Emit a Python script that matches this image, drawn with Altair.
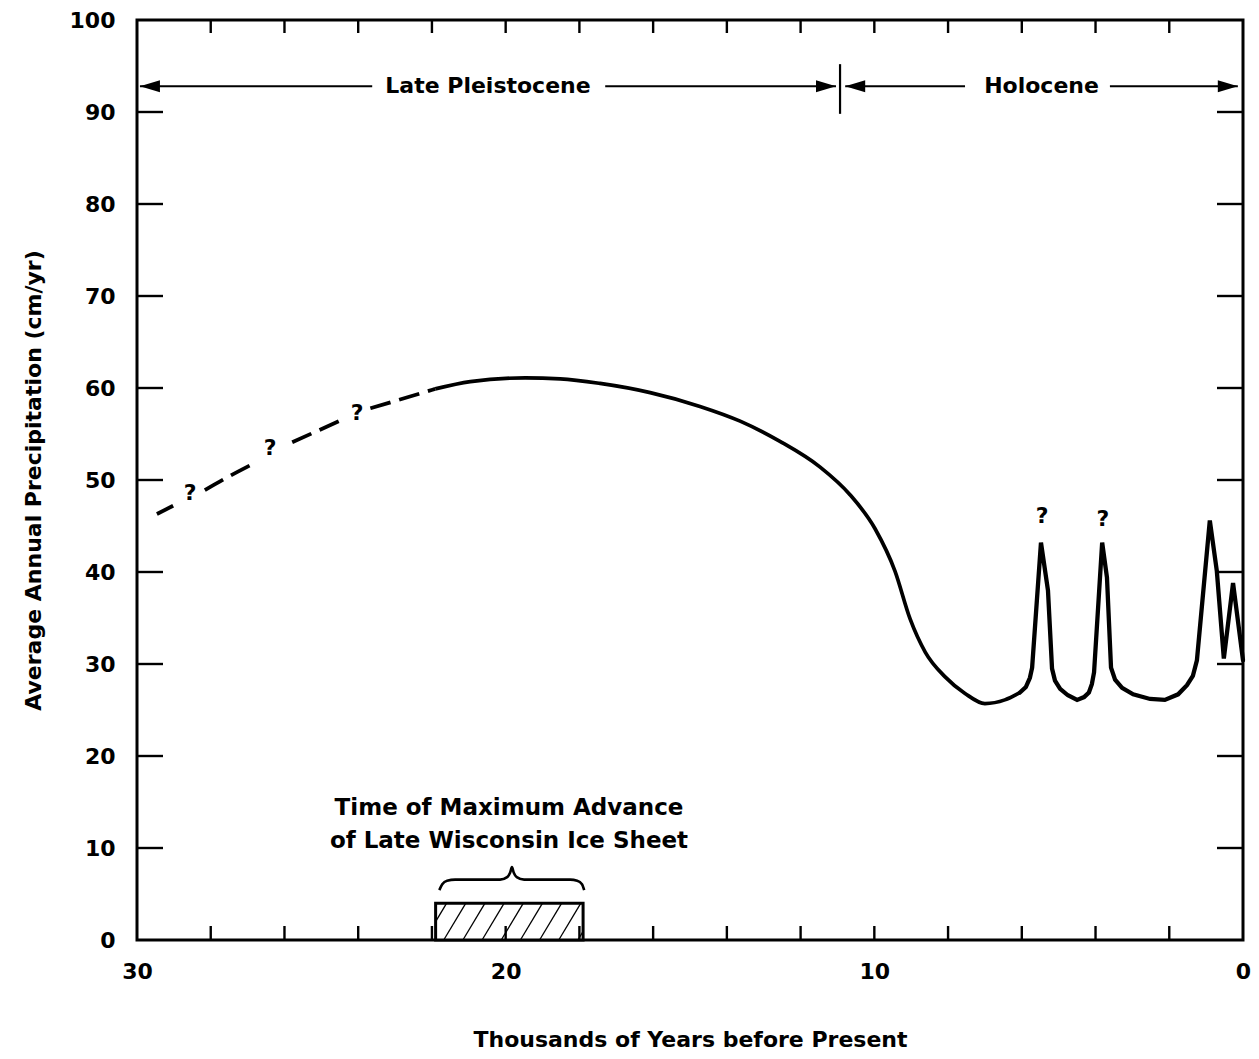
import altair as alt
import pandas as pd
import numpy as np

# ---------------- data ----------------
# smooth part of the precipitation curve (thousands of years BP, cm/yr)
smooth_years = [21.91, 20.96, 19.47, 18.52, 17.44, 16.08, 14.73, 13.64, 12.56, 11.47,
                10.66, 9.98, 9.44, 9.03, 8.62, 8.08, 7.54, 7.00, 6.46, 6.05]
smooth_values = [59.9, 60.7, 61.1, 61.0, 60.5, 59.5, 58.0, 56.4, 54.2, 51.4,
                 48.4, 44.7, 40.1, 34.9, 31.3, 28.6, 26.8, 25.7, 26.1, 26.9]
# Holocene spikes
spike_years = [6.05, 5.89, 5.78, 5.72, 5.48, 5.29, 5.18, 5.10, 4.96, 4.75,
               4.50, 4.31, 4.18, 4.10, 4.04, 3.82, 3.69, 3.58, 3.47, 3.28,
               2.98, 2.52, 2.12, 1.76, 1.52, 1.36, 1.25, 0.90, 0.71, 0.52,
               0.27, 0.0]
spike_values = [26.9, 27.5, 28.5, 29.6, 43.2, 38.0, 29.5, 28.2, 27.3, 26.6,
                26.1, 26.4, 26.9, 27.8, 29.1, 43.2, 39.4, 29.6, 28.3, 27.4,
                26.7, 26.2, 26.1, 26.7, 27.7, 28.7, 30.4, 45.6, 40.1, 30.6,
                38.8, 30.4]

# dashed (uncertain) part, in pieces separated by question marks
dashed_years = [29.46, 29.02, 28.16, 27.50, 26.93, 25.79, 24.41, 23.67, 22.32, 21.91]
dashed_values = [46.3, 47.2, 48.9, 50.4, 51.6, 54.1, 56.6, 57.8, 59.4, 59.9]
dashed_piece = [1, 1, 2, 2, 2, 3, 3, 4, 4, 4]

# question marks
q_years = [28.56, 26.39, 24.03, 5.45, 3.80]
q_values = [48.6, 53.5, 57.3, 46.1, 45.8]

# period annotations
period_names = ["Late Pleistocene", "Holocene"]
period_label_year = [20.48, 5.465]
period_level = 92.8
period_line_from = [29.92, 17.30, 10.79, 3.61]
period_line_to = [23.62, 11.04, 7.54, 0.14]
arrow_tip_year = [29.92, 11.04, 10.79, 0.14]
arrow_dir = ["left", "right", "left", "right"]
divider_year = 10.93
divider_low, divider_high = 89.8, 95.2

# ice-sheet maximum advance box
ice_from, ice_to = 21.9, 17.9
ice_height = 4.0
ice_text = ["Time of Maximum Advance", "of Late Wisconsin Ice Sheet"]
ice_text_year = [19.91, 19.91]
ice_text_value = [14.4, 10.8]
brace_years = [21.80, 21.72, 21.59, 21.37, 20.15, 19.96, 19.88, 19.83,
               19.78, 19.70, 19.50, 18.25, 18.06, 17.93, 17.87]
brace_values = [5.42, 6.07, 6.45, 6.56, 6.56, 6.83, 7.30, 7.92,
                7.30, 6.83, 6.56, 6.56, 6.45, 6.07, 5.42]

# axis ticks / labels
x_labels = [30, 20, 10, 0]
x_minor = list(range(2, 30, 2))
y_labels = list(range(0, 101, 10))
y_minor = list(range(10, 100, 10))

# ---------------- chart ----------------
W, H = 1106, 920
FONT = "DejaVu Sans"

xs = alt.Scale(domain=[0, 30], reverse=True, nice=False, zero=False)
ys = alt.Scale(domain=[0, 100], nice=False)

X = alt.X("year:Q", scale=xs,
          axis=alt.Axis(values=x_labels, format="d", labelPadding=21,
                        titlePadding=47, labelFlush=False),
          title="Thousands of Years before Present")
Y = alt.Y("value:Q", scale=ys,
          axis=alt.Axis(values=y_labels, format="d", labelPadding=22,
                        titlePadding=24, labelFlush=False),
          title="Average Annual Precipitation (cm/yr)")

smooth_df = pd.DataFrame({"year": smooth_years, "value": smooth_values,
                          "o": range(len(smooth_years))})
spike_df = pd.DataFrame({"year": spike_years, "value": spike_values,
                         "o": range(len(spike_years))})
dashed_df = pd.DataFrame({"year": dashed_years, "value": dashed_values,
                          "piece": dashed_piece, "o": range(len(dashed_years))})
q_df = pd.DataFrame({"year": q_years, "value": q_values, "t": ["?"] * len(q_years)})

smooth = alt.Chart(smooth_df).mark_line(
    color="black", strokeWidth=3.7, strokeJoin="round", interpolate="monotone").encode(
    x=X, y=Y, order="o:Q")
spikes = alt.Chart(spike_df).mark_line(
    color="black", strokeWidth=4.3, strokeJoin="miter", strokeCap="round").encode(
    x=X, y=Y, order="o:Q")

dashed = alt.Chart(dashed_df).mark_line(
    color="black", strokeWidth=3.8, strokeDash=[21, 9], interpolate="monotone").encode(
    x=X, y=Y, detail="piece:N", order="o:Q")

qmarks = alt.Chart(q_df).mark_text(font=FONT, fontWeight="bold", fontSize=22,
                                   color="black", baseline="middle").encode(
    x=X, y=Y, text="t:N")

# period lines
pl_df = pd.DataFrame({"year": period_line_from, "year2": period_line_to,
                      "value": [period_level] * 4})
period_lines = alt.Chart(pl_df).mark_rule(color="black", strokeWidth=2.2).encode(
    x=X, x2="year2:Q", y=Y)
arrow_df = pd.DataFrame({"year": arrow_tip_year, "value": [period_level] * 4, "dir": arrow_dir})
arrows = alt.Chart(arrow_df).mark_point(filled=True, color="black", size=400, opacity=1,
                                        strokeWidth=0).encode(
    x=X, y=Y,
    shape=alt.Shape("dir:N", legend=None,
                    scale=alt.Scale(domain=["left", "right"],
                                    range=["M0,0 L2,-0.6 L2,0.6 Z", "M0,0 L-2,-0.6 L-2,0.6 Z"])))
plabel_df = pd.DataFrame({"year": period_label_year, "value": [period_level] * 2,
                          "t": period_names})
plabels = alt.Chart(plabel_df).mark_text(font=FONT, fontWeight="bold", fontSize=22,
                                         color="black", baseline="middle").encode(
    x=X, y=Y, text="t:N")
div_df = pd.DataFrame({"year": [divider_year], "value": [divider_low], "value2": [divider_high]})
divider = alt.Chart(div_df).mark_rule(color="black", strokeWidth=2.2).encode(
    x=X, y=Y, y2="value2:Q")

# ice sheet box with hatching
box_df = pd.DataFrame({"year": [ice_from], "year2": [ice_to], "value": [0], "value2": [ice_height]})
box = alt.Chart(box_df).mark_rect(fill="white", stroke="black", strokeWidth=3).encode(
    x=X, x2="year2:Q", y=Y, y2="value2:Q")

step = 0.52
k = 0.6 / ice_height
hx1, hx2, hy1, hy2 = [], [], [], []
c = ice_from + 0.6 - 0.3
while c > ice_to:
    v0 = max(0.0, (c - ice_from) / k)
    v1 = min(ice_height, (c - ice_to) / k)
    if v1 > v0:
        hx1.append(c - k * v0); hy1.append(v0)
        hx2.append(c - k * v1); hy2.append(v1)
    c -= step
hatch_df = pd.DataFrame({"year": hx1, "year2": hx2, "value": hy1, "value2": hy2})
hatch = alt.Chart(hatch_df).mark_rule(color="black", strokeWidth=1.3).encode(
    x=X, x2="year2:Q", y=Y, y2="value2:Q")

brace_df = pd.DataFrame({"year": brace_years, "value": brace_values, "o": range(len(brace_years))})
brace = alt.Chart(brace_df).mark_line(color="black", strokeWidth=2.6, interpolate="monotone").encode(
    x=X, y=Y, order="o:Q")

ice_df = pd.DataFrame({"year": ice_text_year, "value": ice_text_value, "t": ice_text})
ice_labels = alt.Chart(ice_df).mark_text(font=FONT, fontWeight="bold", fontSize=23,
                                         color="black", baseline="middle").encode(
    x=X, y=Y, text="t:N")

# inward-pointing ticks on all four sides
ty_df = pd.DataFrame({"value": y_minor})
tx_df = pd.DataFrame({"year": x_minor})
left_ticks = alt.Chart(ty_df).mark_rule(color="black", strokeWidth=2.4).encode(
    y=Y, x=alt.value(0), x2=alt.value(26))
right_ticks = alt.Chart(ty_df).mark_rule(color="black", strokeWidth=2.4).encode(
    y=Y, x=alt.value(W - 26), x2=alt.value(W))
top_ticks = alt.Chart(tx_df).mark_rule(color="black", strokeWidth=2.4).encode(
    x=X, y=alt.value(0), y2=alt.value(13))
bottom_ticks = alt.Chart(tx_df).mark_rule(color="black", strokeWidth=2.4).encode(
    x=X, y=alt.value(H - 14), y2=alt.value(H))

chart = alt.layer(
    box, hatch, brace, ice_labels,
    dashed, smooth, spikes, qmarks,
    period_lines, arrows, plabels, divider,
    left_ticks, right_ticks, top_ticks, bottom_ticks,
).properties(
    width=W, height=H,
    autosize=alt.AutoSizeParams(type="none"),
    padding={"left": 129, "top": 12, "right": 8, "bottom": 110},
    background="white",
).configure_view(
    stroke="black", strokeWidth=3
).configure_axis(
    grid=False, domain=False, ticks=False,
    labelFont=FONT, labelFontWeight="bold", labelFontSize=22, labelColor="black",
    titleFont=FONT, titleFontWeight="bold", titleFontSize=22, titleColor="black",
)

chart.save("out.html", embed_options={"renderer": "svg", "actions": False})
